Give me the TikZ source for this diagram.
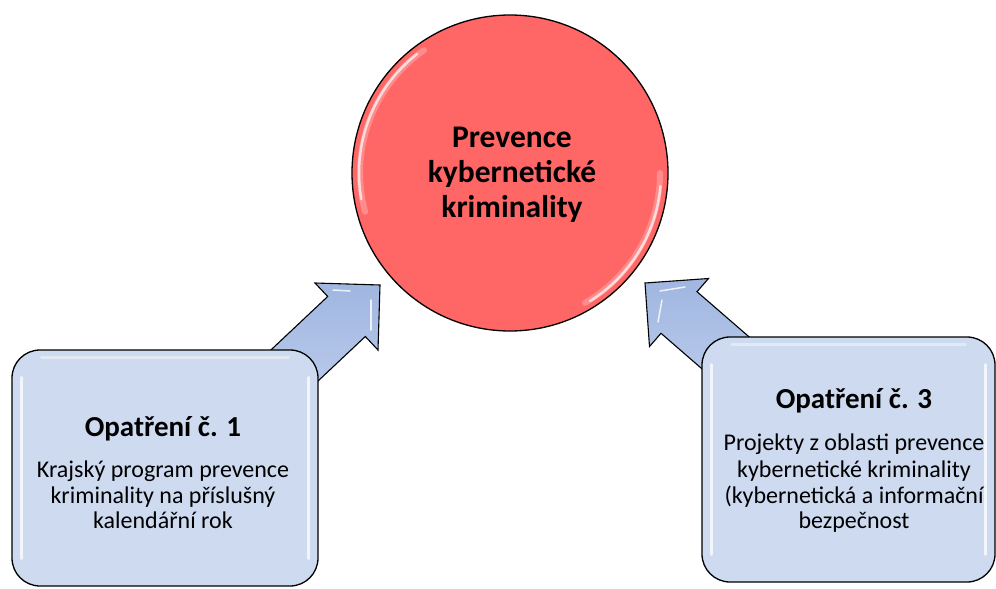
\documentclass[tikz,border=0pt]{standalone}
\usepackage{fontspec}
\setmainfont{Carlito}
\usetikzlibrary{calc}
\definecolor{circfill}{RGB}{255,102,102}
\definecolor{boxfill}{RGB}{206,218,240}
\definecolor{arrfill}{RGB}{160,182,224}
\definecolor{arrlight}{RGB}{196,211,240}
\begin{document}
\begin{tikzpicture}[x=1pt,y=-1pt,
  bigcirc/.style={circle, draw=black, line width=1.3pt, fill=circfill, minimum size=316pt, inner sep=0pt},
  boxstyle/.style={draw=black, line width=1.3pt, fill=boxfill, rounded corners=28pt, inner sep=0pt},
  titletext/.style={anchor=base, inner sep=0pt, font=\fontsize{29}{35}\selectfont\bfseries},
  bodytext/.style={anchor=base, inner sep=0pt, font=\fontsize{24}{26}\selectfont},
  circtext/.style={anchor=base, inner sep=0pt, font=\fontsize{31.5}{35}\selectfont\bfseries},
  arrowstyle/.style={draw=black, line width=1.1pt, left color=arrfill, right color=arrlight, shading angle=0, line join=miter},
  gloss/.style={white, opacity=0.75, line width=2.5pt, line cap=round}
]
\useasboundingbox (0,0) rectangle (996,589);
\fill[white] (0,0) rectangle (996,589);

% centre circle
\node[bigcirc] (c) at (510,173) {};
\draw[white, opacity=0.25, line width=6pt, line cap=round] ($(c.center)+(165:150)$) arc[start angle=165, end angle=235, radius=150];
\draw[gloss, opacity=0.7] ($(c.center)+(170:151)$) arc[start angle=170, end angle=232, radius=151];
\draw[white, opacity=0.25, line width=6pt, line cap=round] ($(c.center)+(0:150)$) arc[start angle=0, end angle=60, radius=150];
\draw[gloss, opacity=0.7] ($(c.center)+(5:151)$) arc[start angle=5, end angle=58, radius=151];
\node[circtext] (ct1) at (512,147) {Prevence};
\node[circtext] (ct2) at (512,182) {kybernetické};
\node[circtext] (ct3) at (512,217) {kriminality};

% left arrow
\coordinate (tipL) at (380,285);
\draw[arrowstyle] (218.5,399.3) -- (327.7,296.5) -- (315,283) -- (tipL) -- (378,350) -- (365.3,336.5) -- (256.1,439.3) -- cycle;
\draw[white, opacity=0.8, line width=1.5pt, line cap=round] (333,290) -- (350,291);
\draw[white, opacity=0.8, line width=1.5pt, line cap=round] (371,300) -- (371,330);

% right arrow
\coordinate (tipR) at (645,283);
\draw[arrowstyle] (810,389.7) -- (697,291.7) -- (708.5,278.5) -- (tipR) -- (649.5,346.5) -- (661,333.3) -- (774,431.3) -- cycle;
\draw[white, opacity=0.8, line width=1.5pt, line cap=round] (660,291) -- (685,287);
\draw[white, opacity=0.8, line width=1.5pt, line cap=round] (662,300) -- (658,322);

% left box
\node[boxstyle, minimum width=306pt, minimum height=236pt] (b1) at (165,468) {};
\draw[gloss] ($(b1.north west)+(10,28)$) -- ($(b1.south west)+(10,-28)$);
\draw[gloss] ($(b1.north east)+(-10,28)$) -- ($(b1.south east)+(-10,-28)$);
\draw[gloss, opacity=0.4] ($(b1.north west)+(30,8)$) -- ($(b1.north east)+(-30,8)$);
\node[titletext] (t1) at (163,436) {Opatření č. 1};
\node[bodytext] (l1a) at (163,477) {Krajský program prevence};
\node[bodytext] (l1b) at (163,503) {kriminality na příslušný};
\node[bodytext] (l1c) at (163,528) {kalendářní rok};

% right box
\node[boxstyle, minimum width=293pt, minimum height=245pt] (b3) at (848.5,459.5) {};
\draw[gloss] ($(b3.north west)+(10,28)$) -- ($(b3.south west)+(10,-28)$);
\draw[gloss] ($(b3.north east)+(-10,28)$) -- ($(b3.south east)+(-10,-28)$);
\draw[gloss, opacity=0.4] ($(b3.north west)+(30,8)$) -- ($(b3.north east)+(-30,8)$);
\node[titletext] (t3) at (854,408) {Opatření č. 3};
\node[bodytext] (l3a) at (854,450) {Projekty z oblasti prevence};
\node[bodytext] (l3b) at (854,477) {kybernetické kriminality};
\node[bodytext] (l3c) at (854,503) {(kybernetická a informační};
\node[bodytext] (l3d) at (854,528) {bezpečnost};
\end{tikzpicture}
\end{document}
